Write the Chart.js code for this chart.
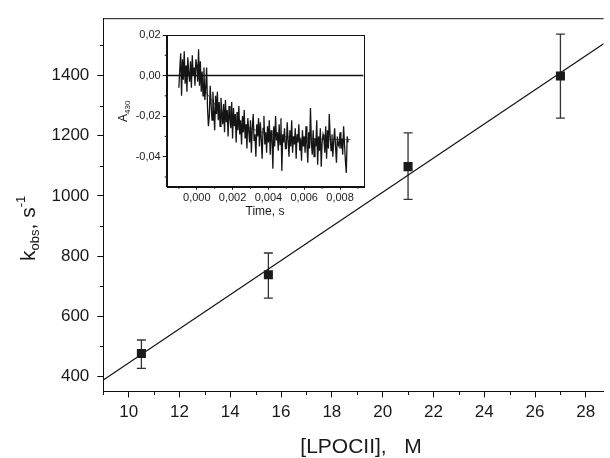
<!DOCTYPE html>
<html><head><meta charset="utf-8">
<script src="https://cdn.jsdelivr.net/npm/chart.js@4"></script>
<style>
html,body{margin:0;padding:0;background:#fff;}
#wrap{position:relative;width:610px;height:458px;overflow:hidden;}
#main{position:absolute;left:0;top:0;}
#inset{position:absolute;left:95px;top:25px;}
</style></head><body>
<div id="wrap"><canvas id="main" width="610" height="458"></canvas><canvas id="inset" width="280" height="200"></canvas></div>
<script>
// ---- main plot data ----
const concX = [10.5, 15.5, 21, 27];
const kObs  = [476, 738, 1097, 1398];
const kLow  = [427, 660, 988, 1258];
const kHigh = [521, 810, 1209, 1537];
const fitX = [9, 28.7];
const fitY = [388, 1505];
const xMajor = [10, 12, 14, 16, 18, 20, 22, 24, 26, 28];
const xMinor = [9, 11, 13, 15, 17, 19, 21, 23, 25, 27];
const yMajor = [400, 600, 800, 1000, 1200, 1400];
const yMinor = [500, 700, 900, 1100, 1300, 1500];

// ---- inset data (time in ms, A430 in milli-units) ----
const traceStartMs = -1.0;
const traceStepMs = 0.05;
const traceMilliA = [
 -6, 3, 11, -10, 8, -2, 12, -4, 5, -8, 9, 1, -3, 7, -6, 10, 0, 4, -5, 8,
 5, -3, 13, -5, 7, -8, 2, -10, 4, -12,
 -6, 4, -16, -25, -20, -5, -14, -22, -8, -17,
 -27, -10, -19, -8, -22, -13, -25, -11, -18, -24,
 -14, -28, -12, -23, -17, -30, -15, -21, -26, -13,
 -31, -16, -25, -19, -33, -18, -27, -15, -29, -22,
 -34, -20, -28, -17, -31, -24, -36, -21, -27, -33,
 -22, -38, -26, -19, -32, -29, -40, -24, -30, -21,
 -35, -23, -31, -41, -26, -20, -34, -28, -38, -25,
 -33, -22, -39, -27, -31, -46, -25, -35, -20, -32,
 -28, -37, -24, -34, -21, -47, -29, -33, -26, -36,
 -36, -23, -32, -40, -27, -35, -22, -38, -30, -34,
 -26, -41, -29, -33, -24, -37, -31, -42, -27, -35,
 -30, -38, -25, -34, -43, -28, -36, -16, -33, -39,
 -27, -40, -31, -35, -22, -44, -30, -37, -26, -45,
 -33, -29, -31, -38, -25, -41, -27, -36, -19, -30,
 -37, -29, -40, -32, -26, -35, -43, -30, -34, -35,
 -28, -36, -31, -39, -25, -34, -42, -48, -30, -33
];
const fitTimeMs = [0, 0.25, 0.5, 0.75, 1, 1.5, 2, 2.5, 3, 3.5, 4, 5, 6, 7, 8, 8.6];
const fitMilliA = [0, -4, -8, -11, -14, -18.5, -21.5, -24, -26, -27.5, -28.7, -30.2, -30.9, -31.3, -31.5, -31.6];
const insetXMajor = [0, 2, 4, 6, 8];
const insetXMinor = [-1, 1, 3, 5, 7, 9];
const insetYMajor = [-40, -20, 0, 20];
const insetYMinor = [-50, -30, -10, 10];

Chart.defaults.font.family = '"Liberation Sans", Arial, sans-serif';
Chart.defaults.color = '#1a1a1a';
const INK = '#111';

const mainDeco = {
  id: 'mainDeco',
  beforeDatasetsDraw(chart) {
    const {ctx, scales: {x, y}} = chart;
    ctx.save();
    ctx.strokeStyle = '#333';
    ctx.lineWidth = 1.3;
    concX.forEach((cx, i) => {
      const px = x.getPixelForValue(cx);
      const pl = y.getPixelForValue(kLow[i]);
      const ph = y.getPixelForValue(kHigh[i]);
      ctx.beginPath();
      ctx.moveTo(px, pl); ctx.lineTo(px, ph);
      ctx.moveTo(px - 4.5, pl); ctx.lineTo(px + 4.5, pl);
      ctx.moveTo(px - 4.5, ph); ctx.lineTo(px + 4.5, ph);
      ctx.stroke();
    });
    ctx.restore();
  },
  afterDraw(chart) {
    const {ctx, chartArea: a, scales: {x, y}} = chart;
    ctx.save();
    ctx.strokeStyle = INK;
    ctx.lineWidth = 1;
    ctx.beginPath();
    xMinor.forEach(v => { const p = Math.round(x.getPixelForValue(v)) + 0.5; ctx.moveTo(p, a.bottom); ctx.lineTo(p, a.bottom + 3.5); });
    yMinor.forEach(v => { const p = Math.round(y.getPixelForValue(v)) + 0.5; ctx.moveTo(a.left, p); ctx.lineTo(a.left - 3.5, p); });
    ctx.moveTo(a.left, a.top + 0.5); ctx.lineTo(a.right, a.top + 0.5);
    ctx.stroke();
    // x title
    ctx.fillStyle = '#1a1a1a';
    ctx.font = '21px "Liberation Sans", Arial, sans-serif';
    ctx.textAlign = 'center';
    ctx.textBaseline = 'alphabetic';
    ctx.fillText('[LPOCII],   M', 361, 453);
    // y title with subscript / superscript
    ctx.translate(34.5, 261);
    ctx.rotate(-Math.PI / 2);
    ctx.textAlign = 'left';
    let cx = 0;
    const seg = (t, size, dy) => { ctx.font = size + 'px "Liberation Sans", Arial, sans-serif'; ctx.fillText(t, cx, dy); cx += ctx.measureText(t).width; };
    seg('k', 21, 0);
    seg('obs', 13, 4);
    seg(', s', 21, 0);
    seg('-1', 13, -10);
    ctx.restore();
  }
};

new Chart(document.getElementById('main'), {
  type: 'scatter',
  data: { datasets: [
    { type: 'line', data: fitX.map((v, i) => ({x: v, y: fitY[i]})), borderColor: INK, borderWidth: 1.2, pointRadius: 0, fill: false, order: 2 },
    { data: concX.map((v, i) => ({x: v, y: kObs[i]})), pointStyle: 'rect', pointRadius: 6.4, backgroundColor: '#1a1a1a', borderColor: '#1a1a1a', borderWidth: 0, order: 1 }
  ]},
  options: {
    responsive: false, animation: false, devicePixelRatio: 1,
    layout: { padding: { top: 13.5, right: 0, left: 0, bottom: 0 } },
    plugins: { legend: { display: false }, tooltip: { enabled: false } },
    scales: {
      x: { type: 'linear', min: 9, max: 28.7,
        afterBuildTicks: s => { s.ticks = xMajor.map(v => ({value: v})); },
        afterFit: s => { s.height = 66.5; },
        grid: { drawOnChartArea: false, tickLength: 6, tickColor: INK, tickWidth: 1 },
        border: { color: INK, width: 1 },
        ticks: { font: { size: 17 }, padding: 5, maxRotation: 0, autoSkip: false, callback: v => String(v) } },
      y: { type: 'linear', min: 350, max: 1590,
        afterBuildTicks: s => { s.ticks = yMajor.map(v => ({value: v})); },
        afterFit: s => { s.width = 103.3; },
        grid: { drawOnChartArea: false, tickLength: 6, tickColor: INK, tickWidth: 1 },
        border: { color: INK, width: 1 },
        ticks: { font: { size: 17 }, padding: 8, autoSkip: false, callback: v => String(v) } }
    }
  },
  plugins: [mainDeco]
});

// ---- inset ----
const fmt = (v, d) => (v / 1000).toFixed(d).replace('.', ',');
const insetDeco = {
  id: 'insetDeco',
  afterDatasetsDraw(chart) {
    const {ctx, chartArea: a, scales: {x, y}} = chart;
    ctx.save();
    ctx.strokeStyle = INK;
    ctx.lineWidth = 1.5;
    const p0 = y.getPixelForValue(0);
    ctx.beginPath(); ctx.moveTo(a.left, p0); ctx.lineTo(a.right, p0); ctx.stroke();
    ctx.restore();
  },
  afterDraw(chart) {
    const {ctx, chartArea: a, scales: {x, y}} = chart;
    ctx.save();
    ctx.strokeStyle = INK;
    ctx.lineWidth = 1;
    ctx.strokeRect(Math.round(a.left) + 0.5, Math.round(a.top) + 0.5, Math.round(a.right - a.left), Math.round(a.bottom - a.top));
    ctx.beginPath();
    insetXMinor.forEach(v => { const p = x.getPixelForValue(v); if (p > a.left && p < a.right) { ctx.moveTo(p, a.bottom); ctx.lineTo(p, a.bottom + 2); } });
    insetYMinor.forEach(v => { const p = y.getPixelForValue(v); if (p > a.top && p < a.bottom) { ctx.moveTo(a.left, p); ctx.lineTo(a.left - 2, p); } });
    ctx.stroke();
    ctx.fillStyle = '#1a1a1a';
    ctx.font = '12px "Liberation Sans", Arial, sans-serif';
    ctx.textAlign = 'center';
    ctx.textBaseline = 'alphabetic';
    ctx.fillText('Time, s', (a.left + a.right) / 2, 190);
    ctx.translate(32, 97);
    ctx.rotate(-Math.PI / 2);
    ctx.textAlign = 'left';
    ctx.font = '12px "Liberation Sans", Arial, sans-serif';
    ctx.fillText('A', 0, 0);
    const w = ctx.measureText('A').width;
    ctx.font = '8px "Liberation Sans", Arial, sans-serif';
    ctx.fillText('430', w, 3);
    ctx.restore();
  }
};

new Chart(document.getElementById('inset'), {
  type: 'scatter',
  data: { datasets: [
    { type: 'line', data: traceMilliA.map((v, i) => ({x: traceStartMs + i * traceStepMs, y: v})), borderColor: '#151515', borderWidth: 1.3, pointRadius: 0, fill: false },
    { type: 'line', data: fitTimeMs.map((t, i) => ({x: t, y: fitMilliA[i]})), borderColor: '#666', borderWidth: 1, pointRadius: 0, fill: false, tension: 0.4 }
  ]},
  options: {
    responsive: false, animation: false, devicePixelRatio: 1,
    layout: { padding: { top: 10, right: 11.7, left: 0, bottom: 0 } },
    plugins: { legend: { display: false }, tooltip: { enabled: false } },
    scales: {
      x: { type: 'linear', min: -1.68, max: 9.3,
        afterBuildTicks: s => { s.ticks = insetXMajor.map(v => ({value: v})); },
        afterFit: s => { s.height = 38.3; },
        grid: { drawOnChartArea: false, tickLength: 3, tickColor: INK },
        border: { color: INK, width: 1 },
        ticks: { font: { size: 11 }, padding: 2, maxRotation: 0, autoSkip: false, callback: v => fmt(v, 3) } },
      y: { type: 'linear', min: -54.8, max: 20,
        afterBuildTicks: s => { s.ticks = insetYMajor.map(v => ({value: v})); },
        afterFit: s => { s.width = 71.7; },
        grid: { drawOnChartArea: false, tickLength: 4, tickColor: INK },
        border: { color: INK, width: 1 },
        ticks: { font: { size: 11 }, padding: 2, autoSkip: false, callback: v => fmt(v, 2) } }
    }
  },
  plugins: [insetDeco]
});
</script>
</body></html>
